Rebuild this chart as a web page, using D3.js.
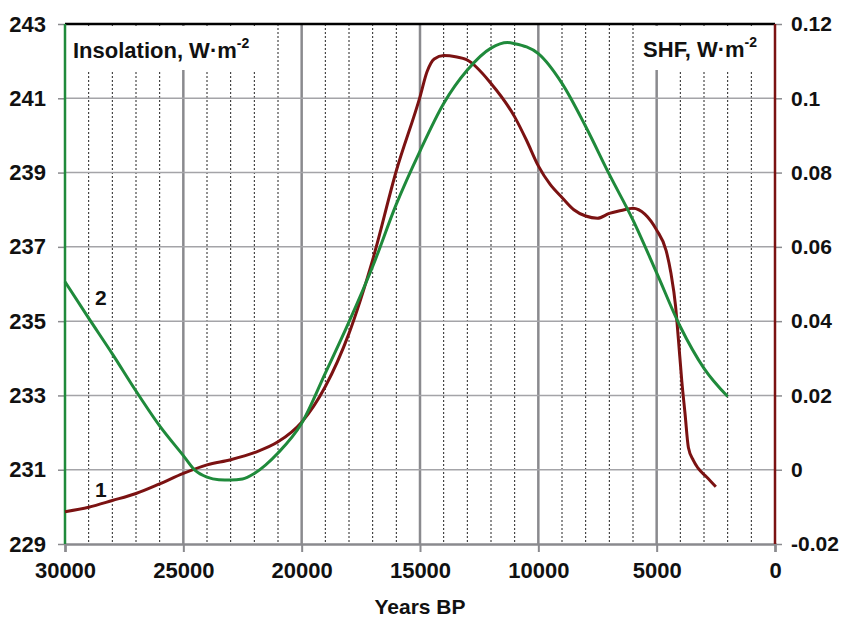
<!DOCTYPE html>
<html>
<head>
<meta charset="utf-8">
<script src="https://cdn.jsdelivr.net/npm/d3@7/dist/d3.min.js"></script>
<style>
  html, body { margin: 0; padding: 0; background: #fff; }
  svg { display: block; font-family: "Liberation Sans", Arial, sans-serif; font-weight: bold; }
</style>
</head>
<body>
<svg id="chart" width="845" height="621"></svg>
<script>
// Insolation (curve 2, left axis), W·m-2, by years BP
const insolYears = [30000, 29000, 28000, 27000, 26000, 25000, 24500, 24000, 23500, 23000, 22500, 22000, 21000, 20000, 19000, 18000, 17000, 16000, 15000, 14000, 13000, 12000, 11300, 11000, 10000, 9000, 8000, 7000, 6000, 5000, 4000, 3000, 2000];
const insolValues = [236.06, 235.08, 234.12, 233.12, 232.18, 231.38, 230.98, 230.8, 230.73, 230.72, 230.75, 230.9, 231.45, 232.25, 233.6, 234.98, 236.47, 238.15, 239.58, 240.86, 241.76, 242.35, 242.5, 242.47, 242.2, 241.4, 240.24, 238.95, 237.72, 236.3, 234.85, 233.73, 232.97];

// Sensible heat flux (curve 1, right axis), W·m-2, by years BP
const shfYears = [30000, 29000, 28000, 27000, 26000, 25000, 24000, 23000, 22000, 21000, 20000, 19000, 18000, 17000, 16000, 15000, 14700, 14400, 14000, 13500, 13000, 12000, 11000, 10500, 10000, 9500, 9000, 8500, 8000, 7500, 7000, 6500, 6000, 5500, 5000, 4600, 4400, 4200, 4080, 3940, 3800, 3660, 3450, 3250, 2900, 2500];
const shfValues = [-0.0113, -0.0101, -0.0083, -0.0064, -0.0038, -0.001, 0.0013, 0.0027, 0.0046, 0.0075, 0.0128, 0.0224, 0.0367, 0.0565, 0.0805, 0.1004, 0.1072, 0.1106, 0.1115, 0.1112, 0.1103, 0.104, 0.095, 0.0887, 0.0818, 0.0768, 0.0733, 0.0700, 0.0683, 0.0677, 0.069, 0.0698, 0.0704, 0.0688, 0.0645, 0.059, 0.053, 0.044, 0.035, 0.024, 0.015, 0.006, 0.0025, 0.0004, -0.0019, -0.0046];

const xTicks = [30000, 25000, 20000, 15000, 10000, 5000, 0];
const leftTicks = [229, 231, 233, 235, 237, 239, 241, 243];
const rightTicks = [-0.02, 0, 0.02, 0.04, 0.06, 0.08, 0.1, 0.12];

const GREEN = "#1f8a3b";
const DARKRED = "#7b1212";

const svg = d3.select("#chart");
const L = 65, R = 775, T = 24, B = 544;

const x = d3.scaleLinear().domain([30000, 0]).range([L, R]);
const yL = d3.scaleLinear().domain([229, 243]).range([B, T]);
const yR = d3.scaleLinear().domain([-0.02, 0.12]).range([B, T]);

// minor vertical grid every 1000 years (dotted)
const minor = d3.range(1000, 30000, 1000).filter(v => v % 5000 !== 0);
svg.append("g").selectAll("line").data(minor).join("line")
  .attr("x1", d => x(d)).attr("x2", d => x(d))
  .attr("y1", T).attr("y2", B)
  .attr("stroke", "#222").attr("stroke-width", 1)
  .attr("stroke-dasharray", "2,2");

// major vertical grid every 5000 years
svg.append("g").selectAll("line").data([25000, 20000, 15000, 10000, 5000]).join("line")
  .attr("x1", d => x(d)).attr("x2", d => x(d))
  .attr("y1", T).attr("y2", B)
  .attr("stroke", "#8a8a8e").attr("stroke-width", 2.5);

// horizontal grid
svg.append("g").selectAll("line").data(leftTicks.slice(1, -1)).join("line")
  .attr("x1", L).attr("x2", R)
  .attr("y1", d => yL(d)).attr("y2", d => yL(d))
  .attr("stroke", "#a4a4a8").attr("stroke-width", 1.5);

// white panels behind the axis titles
svg.append("rect").attr("x", L + 2).attr("y", T + 2).attr("width", 198).attr("height", 44).attr("fill", "#fff");
svg.append("rect").attr("x", 641).attr("y", T + 2).attr("width", R - 643).attr("height", 44).attr("fill", "#fff");

const styleTicks = (g, size) => g.selectAll("text")
  .attr("font-size", size).attr("font-weight", "bold").attr("fill", "#111")
  .attr("font-family", "Liberation Sans, Arial, sans-serif");

// bottom axis
const xAxis = d3.axisBottom(x).tickValues(xTicks).tickSize(8).tickPadding(10).tickFormat(d3.format("d"));
const gx = svg.append("g").attr("transform", `translate(0,${B})`).call(xAxis);
gx.select(".domain").attr("stroke", "#8a8a8e").attr("stroke-width", 2.5);
gx.selectAll(".tick line").attr("stroke", "#8a8a8e").attr("stroke-width", 2);
styleTicks(gx, 22);

// left axis
const yAxisL = d3.axisLeft(yL).tickValues(leftTicks).tickSize(7).tickPadding(12).tickFormat(d3.format("d"));
const gl = svg.append("g").attr("transform", `translate(${L},0)`).call(yAxisL);
gl.select(".domain").remove();
gl.selectAll(".tick line").attr("stroke", "#8a8a8e").attr("stroke-width", 1.5);
styleTicks(gl, 22);

// right axis
const yAxisR = d3.axisRight(yR).tickValues(rightTicks).tickSize(7).tickPadding(9)
  .tickFormat(d => d === 0 ? "0" : String(+d.toFixed(2)));
const gr = svg.append("g").attr("transform", `translate(${R},0)`).call(yAxisR);
gr.select(".domain").remove();
gr.selectAll(".tick line").attr("stroke", "#8a8a8e").attr("stroke-width", 1.5);
styleTicks(gr, 21);

// frame: top black, left green, right dark red
svg.append("line").attr("x1", L).attr("x2", R).attr("y1", T).attr("y2", T)
  .attr("stroke", "#000").attr("stroke-width", 2.5);
svg.append("line").attr("x1", L).attr("x2", L).attr("y1", T).attr("y2", B)
  .attr("stroke", GREEN).attr("stroke-width", 2.5);
svg.append("line").attr("x1", R).attr("x2", R).attr("y1", T).attr("y2", B)
  .attr("stroke", DARKRED).attr("stroke-width", 2.5);

// curves
const insol = insolYears.map((yr, i) => ({ yr, v: insolValues[i] }));
const shf = shfYears.map((yr, i) => ({ yr, v: shfValues[i] }));

const lineL = d3.line().x(d => x(d.yr)).y(d => yL(d.v)).curve(d3.curveMonotoneX);
const lineR = d3.line().x(d => x(d.yr)).y(d => yR(d.v)).curve(d3.curveMonotoneX);

svg.append("path").datum(shf).attr("d", lineR)
  .attr("fill", "none").attr("stroke", DARKRED).attr("stroke-width", 3).attr("stroke-linejoin", "round");
svg.append("path").datum(insol).attr("d", lineL)
  .attr("fill", "none").attr("stroke", GREEN).attr("stroke-width", 3).attr("stroke-linejoin", "round");

// axis titles
const tL = svg.append("text").attr("x", 73).attr("y", 58).attr("font-size", 22).attr("fill", "#111");
tL.append("tspan").text("Insolation, W·m");
tL.append("tspan").attr("font-size", 14).attr("dy", -10).text("-2");

const tR = svg.append("text").attr("x", 757).attr("y", 57).attr("font-size", 22).attr("fill", "#111")
  .attr("text-anchor", "end");
tR.append("tspan").text("SHF, W·m");
tR.append("tspan").attr("font-size", 14).attr("dy", -10).text("-2");

svg.append("text").attr("x", (L + R) / 2).attr("y", 614).attr("text-anchor", "middle")
  .attr("font-size", 21).attr("fill", "#111").text("Years BP");

// curve numbers
svg.append("text").attr("x", 95).attr("y", 305).attr("font-size", 21).attr("fill", "#111").text("2");
svg.append("text").attr("x", 95).attr("y", 497).attr("font-size", 21).attr("fill", "#111").text("1");
</script>
</body>
</html>
